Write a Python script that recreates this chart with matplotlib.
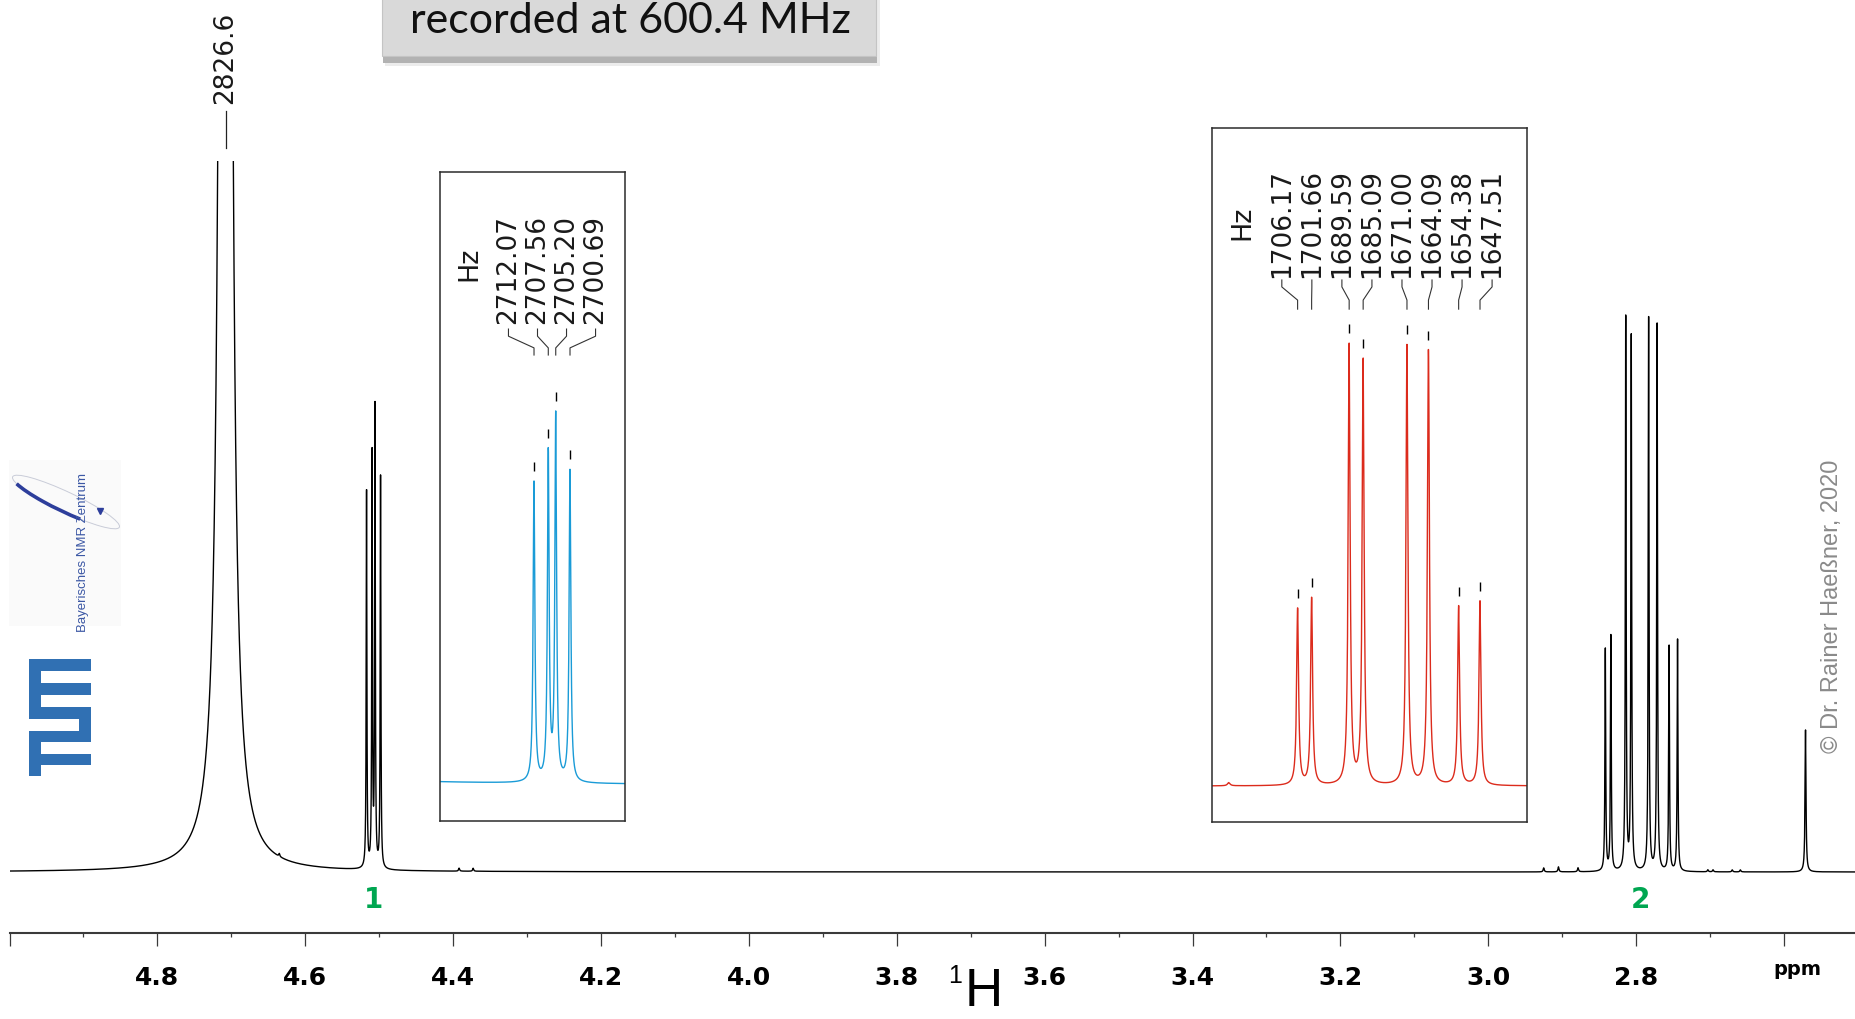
import numpy as np
import matplotlib
matplotlib.use("Agg")
import matplotlib.pyplot as plt
from matplotlib import patches, transforms

W, H = 1855, 1020
MHZ = 600.4

# peak lists: position (Hz at 600.4 MHz), height (arb. units), line width (Hz)
hdo_hz = [2826.6]
hdo_height = [20000]
hdo_fwhm = 2.44

m1_hz = [2712.07, 2707.56, 2705.20, 2700.69]
m1_height = [377, 411, 458, 392]
m1_fwhm = 0.65

m2_hz = [1706.17, 1701.66, 1689.59, 1685.09, 1671.00, 1664.09, 1654.38, 1647.51]
m2_height = [222, 235, 553, 534, 553, 547, 225, 232]
m2_fwhm = 0.75

ref_hz = [1543.6]
ref_height = [142]
ref_fwhm = 0.9

minor_hz = [2782.9, 2636.9, 2625.5, 1756.2, 1744.2, 1728.3, 1622.9, 1618.7, 1603.1, 1596.5]
minor_height = [3, 3, 3, 4, 5, 4, 2, 2, 2, 2]
minor_fwhm = 1.0

ppm_ticks = [5.0, 4.8, 4.6, 4.4, 4.2, 4.0, 3.8, 3.6, 3.4, 3.2, 3.0, 2.8, 2.6]
ppm_tick_labels = ['', '4.8', '4.6', '4.4', '4.2', '4.0', '3.8', '3.6', '3.4',
                   '3.2', '3.0', '2.8', '']
ppm_minor = [4.9, 4.7, 4.5, 4.3, 4.1, 3.9, 3.7, 3.5, 3.3, 3.1, 2.9, 2.7, 2.5]

title = 'recorded at 600.4 MHz'
copyright_text = '\u00a9 Dr. Rainer Hae\u00dfner, 2020'

BLUE = '#1a9bd7'
RED = '#dc2b1c'
GREEN = '#00a651'
ARIAL = ['Liberation Sans', 'DejaVu Sans']

plt.rcParams['font.family'] = ['DejaVu Sans']


def lorentz(x, pos, height, fwhm):
    g = fwhm / 2.0
    return height * g ** 2 / ((x - pos) ** 2 + g ** 2)


def build_spectrum(x):
    y = np.zeros_like(x)
    groups = [(hdo_hz, hdo_height, hdo_fwhm), (m1_hz, m1_height, m1_fwhm),
              (m2_hz, m2_height, m2_fwhm), (ref_hz, ref_height, ref_fwhm),
              (minor_hz, minor_height, minor_fwhm)]
    for pos_list, h_list, fw in groups:
        for p, h in zip(pos_list, h_list):
            y += lorentz(x, p, h, fw)
    return y


def px_box(x0, y0, x1, y1):
    # pixel box (origin top-left) -> figure fraction rect
    return [x0 / W, 1 - y1 / H, (x1 - x0) / W, (y1 - y0) / H]


hz = np.arange(1500.0, 3003.0, 0.02)
spec = build_spectrum(hz)

fig = plt.figure(figsize=(W / 100, H / 100), dpi=100)
px_from_top = transforms.Affine2D().scale(1 / W, -1 / H).translate(0, 1) + fig.transFigure

# ---- main spectrum
ax = fig.add_axes(px_box(9.5, 162, 1858, 934))
ax.set_facecolor('none')
ax.plot(hz / MHZ, spec, color='black', lw=1.0)
ax.set_xlim(5.0, 2.5)
ax.set_ylim(-61, 711)
for s in ['top', 'left', 'right']:
    ax.spines[s].set_visible(False)
ax.spines['bottom'].set_linewidth(1.5)
ax.spines['bottom'].set_color('#3a3a3a')
ax.set_yticks([])
ax.set_xticks(ppm_ticks, ppm_tick_labels, fontsize=18, fontweight='bold')
ax.set_xticks(ppm_minor, minor=True)
ax.tick_params(axis='x', which='major', direction='out', length=9.4, width=0.9,
               pad=14, color='#3a3a3a')
ax.tick_params(axis='x', which='minor', direction='out', length=2.9, width=0.9,
               color='#3a3a3a')

main_tr = transforms.blended_transform_factory(ax.transData, px_from_top)
hdo_ppm = hdo_hz[0] / MHZ
ax.plot([hdo_ppm, hdo_ppm], [112, 149], transform=main_tr, color='#222222',
        lw=0.9, clip_on=False)
ax.text(hdo_ppm, 104, f'{hdo_hz[0]:.1f}', transform=main_tr, rotation=90,
        ha='center', va='bottom', fontsize=19, color='#1a1a1a')
ax.text(np.mean(m1_hz) / MHZ, 908, '1', transform=main_tr, ha='center',
        va='baseline', fontsize=20, fontweight='bold', color=GREEN)
ax.text(np.mean(m2_hz) / MHZ, 908, '2', transform=main_tr, ha='center',
        va='baseline', fontsize=20, fontweight='bold', color=GREEN)


# ---- insets
INSET_PX_PER_UNIT = 0.795


def make_inset(box, xlim, height_px, color):
    a = fig.add_axes(px_box(*box))
    a.plot(hz, spec, color=color, lw=1.0)
    a.set_xlim(*xlim)
    bottom = -36 / INSET_PX_PER_UNIT
    a.set_ylim(bottom, bottom + height_px / INSET_PX_PER_UNIT)
    a.set_xticks([])
    a.set_yticks([])
    for s in a.spines.values():
        s.set_linewidth(1.1)
        s.set_color('#2b2b2b')
    return a


def annotate_multiplet(a, peaks, spacing, y_conn, y_label, hz_pos):
    peaks = np.asarray(peaks)
    tops = np.interp(peaks, hz, spec)
    gap = 10 / INSET_PX_PER_UNIT
    ln = 9 / INSET_PX_PER_UNIT
    a.vlines(peaks, tops + gap, tops + gap + ln, color='black', lw=1.0)
    n = len(peaks)
    label_x = peaks.mean() + ((n - 1) / 2 - np.arange(n)) * spacing
    tr = a.get_xaxis_transform()
    for p, lx in zip(peaks, label_x):
        a.plot([p, p, lx, lx], y_conn, transform=tr, color='#333333', lw=0.8,
               clip_on=False)
        a.text(lx, y_label, f'{p:.2f}', transform=tr, rotation=90, ha='center',
               va='bottom', fontsize=19, color='#1a1a1a')
    a.text(hz_pos[0], hz_pos[1], 'Hz', transform=a.transAxes, rotation=90,
           ha='center', va='center', fontsize=19.5, color='#1a1a1a')


ax1 = make_inset((440, 173, 625, 822), (2741.8, 2683.3), 649, BLUE)
annotate_multiplet(ax1, m1_hz, 9.18, [0.718, 0.729, 0.747, 0.758], 0.768,
                   (0.157, 0.860))

ax2 = make_inset((1212, 129, 1527, 823), (1733.7, 1632.4), 694, RED)
annotate_multiplet(ax2, m2_hz, 9.66, [0.739, 0.752, 0.771, 0.781], 0.786,
                   (0.098, 0.865))

# ---- overlay in pixel coordinates: title box, axis title, logos, credit
ov = fig.add_axes([0, 0, 1, 1], zorder=10)
ov.set_xlim(0, W)
ov.set_ylim(H, 0)
ov.axis('off')

ov.add_patch(patches.Rectangle((385, -20), 495, 87, fc='#ececec', ec='none'))
ov.add_patch(patches.Rectangle((383, -20), 494, 84, fc='#b2b2b2', ec='none'))
ov.add_patch(patches.Rectangle((382, -20), 494, 77, fc='#d9d9d9', ec='#c4c4c4', lw=0.8))
ov.text(630, 33, title, ha='center', va='baseline', fontsize=31,
        family=['Lato', 'DejaVu Sans'], color='#111111')

ov.text(1797, 975, 'ppm', ha='center', va='baseline', fontsize=14,
        fontweight='bold')
ov.text(984, 1006, 'H', ha='center', va='baseline', fontsize=38, family=ARIAL)
ov.text(955, 983, '1', ha='center', va='baseline', fontsize=18, family=ARIAL)

ov.text(1832, 606, copyright_text, rotation=90, ha='center', va='center',
        fontsize=17, color='#8a8a8a', family=ARIAL)

# TUM logo (rotated)
tum_rects = [(29, 660, 91, 672), (29, 660, 41, 720), (41, 684, 91, 696),
             (29, 708, 91, 720), (79, 708, 91, 743), (29, 732, 91, 743),
             (29, 732, 41, 777), (41, 755, 91, 766)]
for x0, y0, x1, y1 in tum_rects:
    ov.add_patch(patches.Rectangle((x0, y0), x1 - x0, y1 - y0, fc='#3070b3', ec='none'))

# Bayerisches NMR Zentrum logo
ov.add_patch(patches.Rectangle((9, 461), 112, 166, fc='#fafafa', ec='none'))
ov.add_patch(patches.Ellipse((66, 503), 118, 20, angle=25.3, fill=False,
                             ec='#c9ccd8', lw=0.7))
ov.add_patch(patches.Arc((66, 503), 118, 20, angle=25.3, theta1=25, theta2=175,
                         ec='#2d3e9b', lw=2.6))
ov.plot(100, 512, marker='v', ms=4, color='#2d3e9b')
ov.text(83, 553, 'Bayerisches NMR Zentrum', rotation=90, ha='center',
        va='center', fontsize=9.5, color='#3b57a4', family=ARIAL)

fig.savefig('out.png', dpi=100)
